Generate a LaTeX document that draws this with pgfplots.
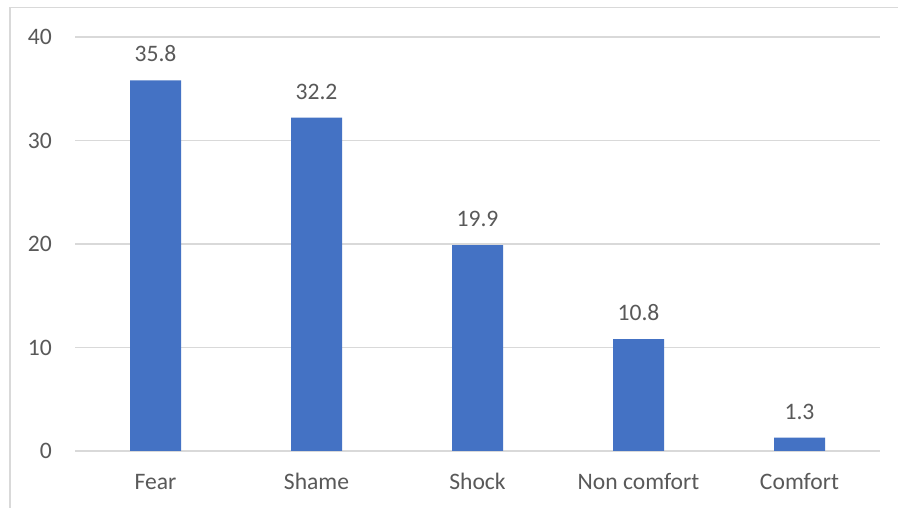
\documentclass[border=0pt]{standalone}
\usepackage{pgfplots}
\pgfplotsset{compat=1.18}
\usepackage{fontspec}
\setmainfont{Carlito}
\definecolor{barblue}{HTML}{4472C4}
\definecolor{gridgray}{HTML}{D9D9D9}
\definecolor{txtgray}{HTML}{595959}
\begin{document}
\fontsize{23.6bp}{28bp}\selectfont
\begin{tikzpicture}
\useasboundingbox (0,0) rectangle (898bp,508bp);
\fill[white] (0,0) rectangle (898bp,508bp);
\draw[gridgray, line width=1.5bp] (10bp,-5bp) -- (10bp,500.5bp) -- (905bp,500.5bp);
\begin{axis}[
  at={(75bp,57bp)}, anchor=south west,
  scale only axis,
  width=805bp, height=414bp,
  xmin=-0.5, xmax=4.5,
  ymin=0, ymax=40,
  axis line style={draw=none},
  ymajorgrids,
  grid style={gridgray, line width=1.5bp},
  ytick={0,10,20,30,40},
  xtick={0,1,2,3,4},
  xticklabels={Fear,Shame,Shock,Non comfort,Comfort},
  major tick length=0pt,
  tick style={draw=none},
  ticklabel style={font=\fontsize{23.6bp}{28bp}\selectfont, text=txtgray},
  /pgf/number format/assume math mode=true,
  yticklabel style={anchor=east, inner sep=0pt, xshift=-23bp},
  xticklabel style={anchor=base, inner sep=0pt, yshift=-38.5bp},
]
\addplot[ybar, bar width=51bp, fill=barblue, draw=none,
  nodes near coords,
  nodes near coords style={anchor=base, inner sep=0pt, yshift=18.5bp, text=txtgray, font=\fontsize{23.6bp}{28bp}\selectfont, /pgf/number format/.cd, fixed, precision=1, fixed zerofill, assume math mode=true},
] coordinates {(0,35.8) (1,32.2) (2,19.9) (3,10.8) (4,1.3)};
\end{axis}
\end{tikzpicture}
\end{document}
